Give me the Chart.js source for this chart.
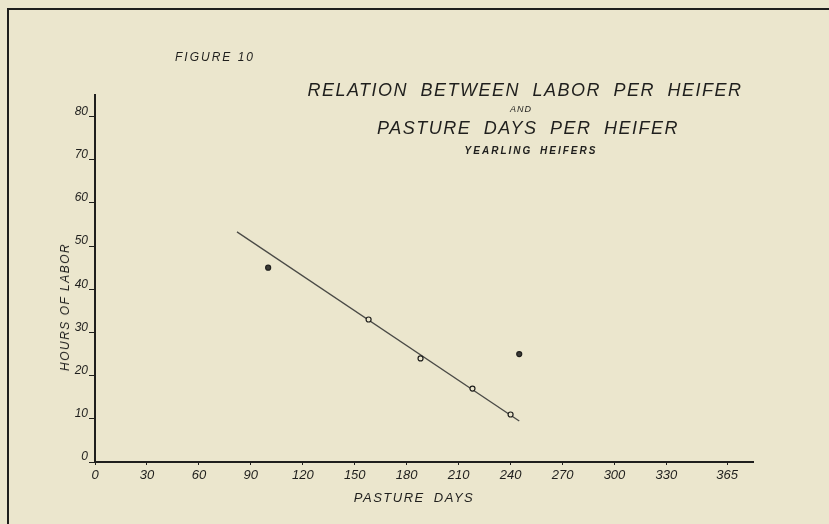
<!DOCTYPE html>
<html>
<head>
<meta charset="utf-8">
<script src="https://cdn.jsdelivr.net/npm/chart.js@4"></script>
<style>
  html, body { margin: 0; padding: 0; background: #ebe6cd; }
  #wrap { position: relative; width: 829px; height: 524px; overflow: hidden; background: #ebe6cd; }
  #frame { position: absolute; left: 7px; top: 8px; width: 830px; height: 530px;
           border-left: 2px solid #1e1e1c; border-top: 2px solid #1e1e1c; }
  canvas { position: absolute; left: 0; top: 0; }
  .txt { position: absolute; transform: translate(-50%, -50%); white-space: nowrap;
         font-family: "Liberation Sans", sans-serif; font-style: italic; color: #1f1f1d; }
</style>
</head>
<body>
<div id="wrap">
  <div id="frame"></div>
  <canvas id="chart" width="829" height="524"></canvas>
  <div class="txt" style="left:215px; top:57px; font-size:12px; letter-spacing:2px;">FIGURE 10</div>
  <div class="txt" style="left:525px; top:90px; font-size:18px; letter-spacing:1.5px; word-spacing:6px;">RELATION BETWEEN LABOR PER HEIFER</div>
  <div class="txt" style="left:521px; top:109px; font-size:9px; letter-spacing:1px;">AND</div>
  <div class="txt" style="left:528px; top:128px; font-size:18px; letter-spacing:1.5px; word-spacing:6px;">PASTURE DAYS PER HEIFER</div>
  <div class="txt" style="left:531px; top:150px; font-size:10px; font-weight:bold; letter-spacing:2px; word-spacing:3px;">YEARLING HEIFERS</div>
  <div class="txt" style="left:65px; top:307px; font-size:12px; letter-spacing:1.5px; transform: translate(-50%, -50%) rotate(-90deg);">HOURS OF LABOR</div>
  <div class="txt" style="left:414px; top:497px; font-size:13px; letter-spacing:1.5px; word-spacing:4px;">PASTURE DAYS</div>
</div>
<script>
// observed points: pasture days / hours of labor per heifer
const pastureDays = [100, 158, 188, 218, 240, 245];
const laborHours = [45, 33, 24, 17, 11, 25];
const filledPoint = [true, false, false, false, false, true];

// fitted line, drawn by hand on the original
const trendDays = [82, 245];
const trendHours = [53.3, 9.5];

const xTicks = [0, 30, 60, 90, 120, 150, 180, 210, 240, 270, 300, 330, 365];
const yTicks = [0, 10, 20, 30, 40, 50, 60, 70, 80];

const ink = '#1f1f1d';
const paper = '#ebe6cd';

const scatterData = pastureDays.map((d, i) => ({ x: d, y: laborHours[i] }));
const trendData = trendDays.map((d, i) => ({ x: d, y: trendHours[i] }));

new Chart(document.getElementById('chart'), {
  type: 'scatter',
  data: {
    datasets: [
      {
        label: 'Trend',
        data: trendData,
        showLine: true,
        borderColor: '#4a4a46',
        borderWidth: 1.3,
        pointRadius: 0,
        order: 2,
      },
      {
        label: 'Heifers',
        data: scatterData,
        pointRadius: 2.5,
        pointBorderWidth: 1.2,
        pointBorderColor: ink,
        pointBackgroundColor: filledPoint.map((f) => (f ? '#3a3a36' : paper)),
        order: 1,
      },
    ],
  },
  options: {
    responsive: false,
    animation: false,
    layout: { padding: { left: 55, right: 76, top: 95, bottom: 22 } },
    plugins: { legend: { display: false }, tooltip: { enabled: false }, title: { display: false } },
    scales: {
      x: {
        type: 'linear',
        min: 0,
        max: 380,
        afterBuildTicks: (s) => { s.ticks = xTicks.map((v) => ({ value: v })); },
        afterFit: (s) => { s.height = 40; },
        border: { color: ink, width: 2 },
        grid: { drawOnChartArea: false, color: ink, tickLength: 3 },
        ticks: {
          color: ink,
          padding: 3,
          font: { family: 'Liberation Sans', style: 'italic', size: 13 },
        },
      },
      y: {
        type: 'linear',
        min: 0,
        max: 85,
        afterBuildTicks: (s) => { s.ticks = yTicks.map((v) => ({ value: v })); },
        afterFit: (s) => { s.width = 40; },
        border: { color: ink, width: 2 },
        grid: { drawOnChartArea: false, color: ink, tickLength: 6 },
        ticks: {
          color: ink,
          padding: 1,
          labelOffset: -5,
          font: { family: 'Liberation Sans', style: 'italic', size: 12 },
        },
      },
    },
  },
});
</script>
</body>
</html>
